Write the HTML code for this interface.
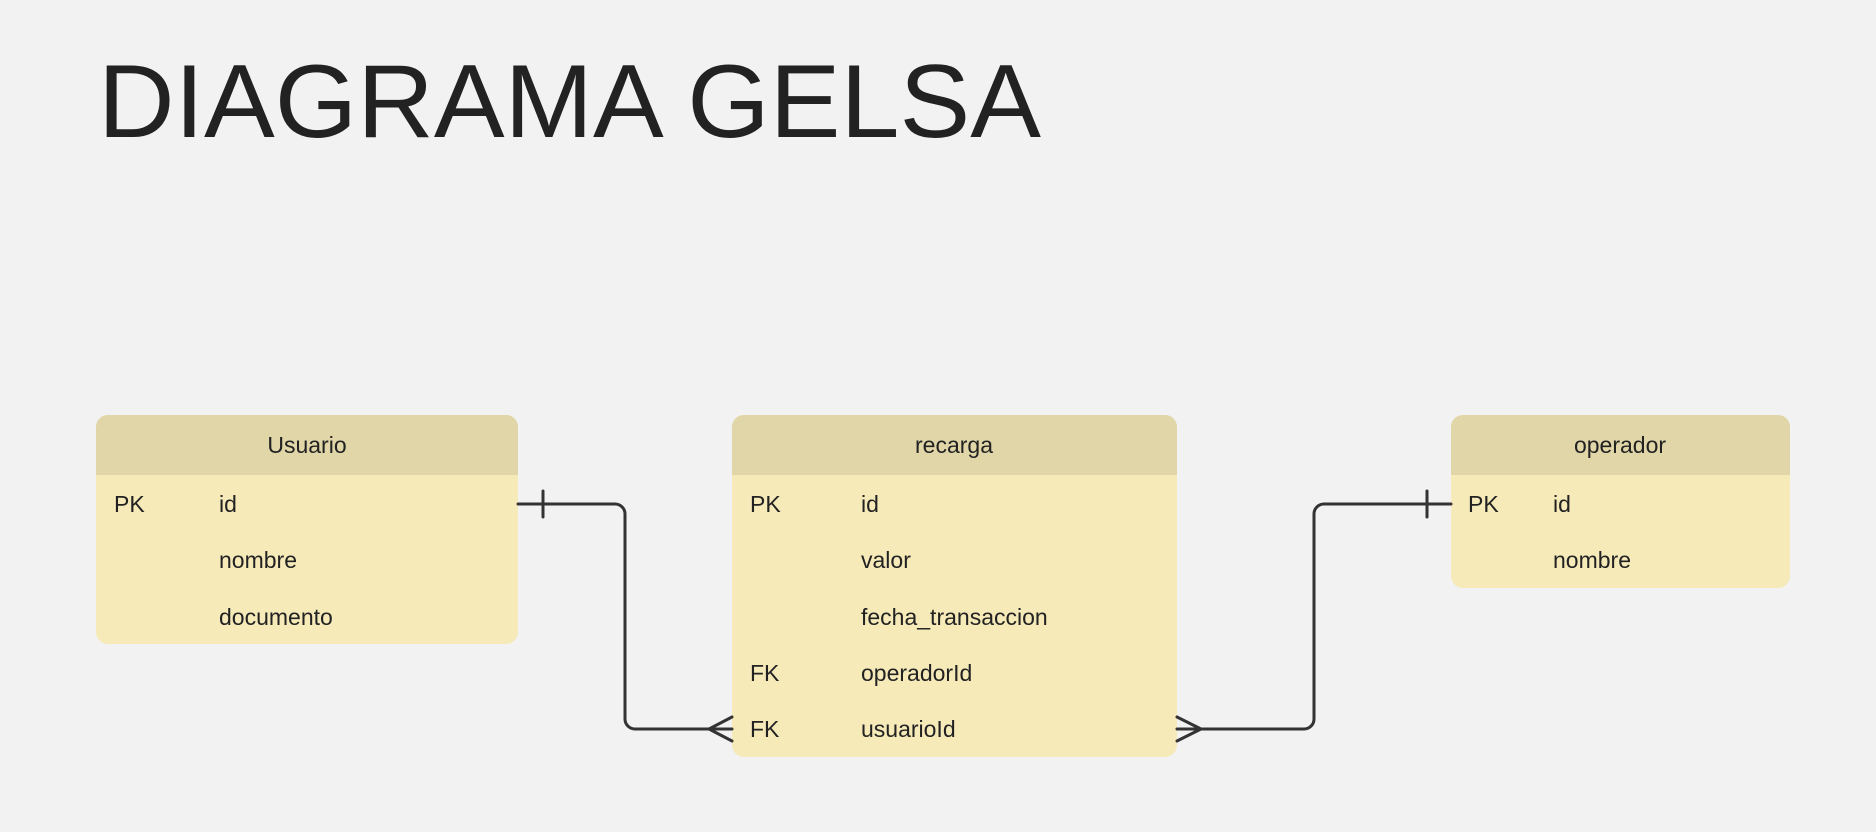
<!DOCTYPE html>
<html><head><meta charset="utf-8"><style>
html,body{margin:0;padding:0;background:#f2f2f2;}
svg{display:block;}
text{font-family:"Liberation Sans",sans-serif;fill:#222;}
</style></head><body>
<svg width="1876" height="832" viewBox="0 0 1876 832">
<rect width="1876" height="832" fill="#f2f2f2"/>
<text x="98" y="137" font-size="104" textLength="943" lengthAdjust="spacingAndGlyphs" fill="#1c1c1c">DIAGRAMA GELSA</text>

<!-- Usuario -->
<rect x="96" y="415" width="422" height="229" rx="12" fill="#f6eab9"/>
<path d="M96 475 V427 a12 12 0 0 1 12 -12 H506 a12 12 0 0 1 12 12 V475 Z" fill="#e0d6a7"/>
<text x="307" y="453" font-size="23" text-anchor="middle">Usuario</text>
<g font-size="23">
<text x="114" y="512">PK</text><text x="219" y="512">id</text>
<text x="219" y="568">nombre</text>
<text x="219" y="625">documento</text>
</g>

<!-- recarga -->
<rect x="732" y="415" width="445" height="342" rx="12" fill="#f6eab9"/>
<path d="M732 475 V427 a12 12 0 0 1 12 -12 H1165 a12 12 0 0 1 12 12 V475 Z" fill="#e0d6a7"/>
<text x="954" y="453" font-size="23" text-anchor="middle">recarga</text>
<g font-size="23">
<text x="750" y="512">PK</text><text x="861" y="512">id</text>
<text x="861" y="568">valor</text>
<text x="861" y="625">fecha_transaccion</text>
<text x="750" y="681">FK</text><text x="861" y="681">operadorId</text>
<text x="750" y="737">FK</text><text x="861" y="737">usuarioId</text>
</g>

<!-- operador -->
<rect x="1451" y="415" width="339" height="173" rx="12" fill="#f6eab9"/>
<path d="M1451 475 V427 a12 12 0 0 1 12 -12 H1778 a12 12 0 0 1 12 12 V475 Z" fill="#e0d6a7"/>
<text x="1620" y="453" font-size="23" text-anchor="middle">operador</text>
<g font-size="23">
<text x="1468" y="512">PK</text><text x="1553" y="512">id</text>
<text x="1553" y="568">nombre</text>
</g>

<!-- connectors -->
<g fill="none" stroke="#333" stroke-width="3" stroke-linecap="round" stroke-linejoin="round">
<path d="M518 504 H615 a10 10 0 0 1 10 10 V719 a10 10 0 0 0 10 10 H732"/>
<line x1="543" y1="491" x2="543" y2="517"/>
<path d="M732 717 L709 729 L732 741"/>
<path d="M1177 729 H1304 a10 10 0 0 0 10 -10 V514 a10 10 0 0 1 10 -10 H1451"/>
<line x1="1427" y1="491" x2="1427" y2="517"/>
<path d="M1177 717 L1201 729 L1177 741"/>
</g>
</svg>
</body></html>
